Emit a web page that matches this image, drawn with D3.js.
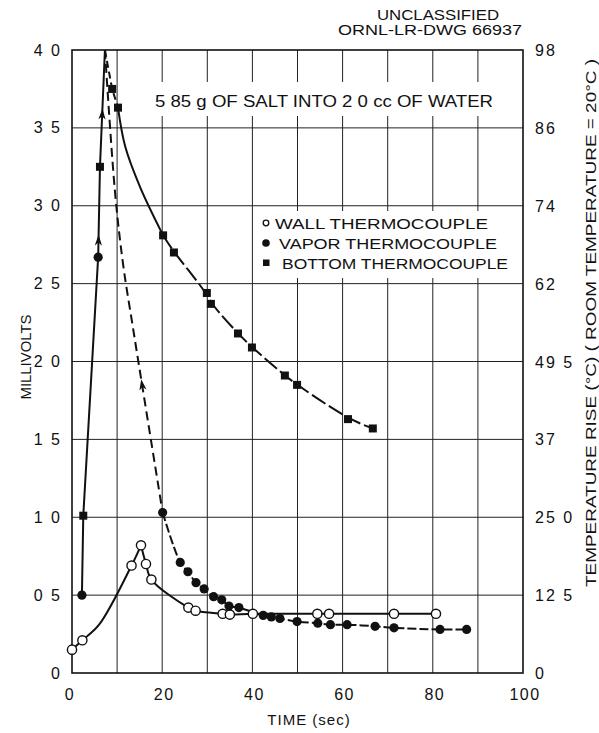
<!DOCTYPE html>
<html><head><meta charset="utf-8">
<script src="https://cdn.jsdelivr.net/npm/d3@7"></script>
<style>body{margin:0;background:#fff}svg{display:block}</style>
</head><body><svg id="c" width="599" height="733"></svg>
<script>
// ---------- data ----------
const xTicks = [0, 20, 40, 60, 80, 100];
const xGrid = [10, 20, 30, 40, 50, 60, 70, 80, 90];
const yTicks = [0, 0.5, 1, 1.5, 2, 2.5, 3, 3.5, 4];
const yTickLabels = ["0", "0 5", "1 0", "1 5", "2 0", "2 5", "3 0", "3 5", "4 0"];
const rightTickLabels = ["0", "12 5", "25 0", "37", "49 5", "62", "74", "86", "98"];

const wallT = [0, 2.3, 13.2, 15.3, 16.4, 17.6, 25.8, 27.4, 33.4, 35.0, 40.1, 54.4, 57.0, 71.4, 80.7];
const wallV = [0.15, 0.21, 0.69, 0.82, 0.70, 0.60, 0.42, 0.40, 0.38, 0.375, 0.38, 0.38, 0.38, 0.38, 0.38];
const wallRiseKnotT = [6.0];
const wallRiseKnotV = [0.31];

const vaporT = [2.2, 5.8, 20.1, 24.0, 25.7, 27.5, 29.3, 31.4, 33.2, 34.8, 37.0, 42.4, 44.2, 46.1, 49.9, 54.5, 57.3, 61.0, 67.2, 71.4, 81.6, 87.5];
const vaporV = [0.50, 2.67, 1.03, 0.71, 0.65, 0.58, 0.54, 0.49, 0.47, 0.43, 0.42, 0.37, 0.36, 0.35, 0.33, 0.32, 0.31, 0.31, 0.30, 0.29, 0.28, 0.28];
const vaporDropT = [9.5, 11.3, 13.5];
const vaporDropV = [3.1, 2.63, 2.22];

const bottomT = [2.5, 6.2, 8.9, 10.2, 20.2, 22.6, 29.9, 30.8, 36.8, 39.9, 47.2, 49.9, 61.2, 66.7];
const bottomV = [1.01, 3.25, 3.75, 3.63, 2.81, 2.70, 2.44, 2.37, 2.18, 2.09, 1.91, 1.85, 1.63, 1.57];
const bottomDropT = [11.8, 15.1];
const bottomDropV = [3.38, 3.12];

const peakT = 7.3, peakV = 4.0;

const legendLabels = ["WALL THERMOCOUPLE", "VAPOR THERMOCOUPLE", "BOTTOM THERMOCOUPLE"];
const titleText = "5 85 g OF SALT INTO 2 0 cc OF WATER";

// ---------- layout ----------
const svg = d3.select("#c");
const FONT = "'Liberation Sans', Arial, sans-serif";
const INK = "#111";
const x = d3.scaleLinear().domain([0, 100]).range([72, 523]);
const y = d3.scaleLinear().domain([0, 4]).range([673, 50]);

const P = (ts, vs) => ts.map((t, i) => [t, vs[i]]);
const wall = P(wallT, wallV), vapor = P(vaporT, vaporV), bottom = P(bottomT, bottomV);
const peak = [peakT, peakV];

// grid
const g = svg.append("g");
g.selectAll("line.vg").data(xGrid).join("line")
  .attr("x1", d => x(d)).attr("x2", d => x(d)).attr("y1", y(4)).attr("y2", y(0))
  .attr("stroke", "#222").attr("stroke-width", 1);
g.selectAll("line.hg").data(yTicks.filter(v => v > 0 && v < 4)).join("line")
  .attr("y1", d => y(d)).attr("y2", d => y(d)).attr("x1", x(0)).attr("x2", x(100))
  .attr("stroke", "#222").attr("stroke-width", 1);

// white boxes behind title and legend
svg.append("rect").attr("x", 150).attr("y", 82).attr("width", 352).attr("height", 34).attr("fill", "#fff");
svg.append("rect").attr("x", x(40) + 1.5).attr("y", 211).attr("width", x(100) - x(40) - 3).attr("height", 67).attr("fill", "#fff");

// frame
svg.append("rect").attr("x", x(0)).attr("y", y(4)).attr("width", x(100) - x(0)).attr("height", y(0) - y(4))
  .attr("fill", "none").attr("stroke", INK).attr("stroke-width", 1.6);

// clip
svg.append("clipPath").attr("id", "clip").append("rect")
  .attr("x", x(0)).attr("y", y(4) - 1).attr("width", x(100) - x(0)).attr("height", y(0) - y(4) + 2);
const lines = svg.append("g").attr("clip-path", "url(#clip)");

const lineLin = d3.line().x(d => x(d[0])).y(d => y(d[1]));
const lineCR = d3.line().x(d => x(d[0])).y(d => y(d[1])).curve(d3.curveCatmullRom.alpha(0.5));
const lineB = d3.line().x(d => x(d[0])).y(d => y(d[1])).curve(d3.curveBasis);

function drawPath(gen, pts, dash) {
  lines.append("path").attr("d", gen(pts)).attr("fill", "none").attr("stroke", INK)
    .attr("stroke-width", 2).attr("stroke-dasharray", dash || null)
    .attr("stroke-linecap", "butt").attr("stroke-linejoin", "round");
}

// rising (shared) path
const rising = [vapor[0], bottom[0], vapor[1], bottom[1], peak];
drawPath(lineLin, rising);

// vapor drop (dashed) from peak to t=20
drawPath(lineCR, [peak, ...P(vaporDropT, vaporDropV), vapor[2]], "9,5");
// vapor tail
drawPath(lineCR, vapor.slice(2), "9,3");

// bottom drop
drawPath(lineLin, [peak, bottom[2], bottom[3]], "7,4");
drawPath(lineCR, [bottom[3], ...P(bottomDropT, bottomDropV), bottom[4]]);
// bottom tail: smooth basis through endpoints
const bTail = bottom.slice(4);
drawPath(lineB, [bTail[0], ...bTail, bTail[bTail.length - 1]], "16,4");

// wall
drawPath(lineCR, [wall[0], wall[1], ...P(wallRiseKnotT, wallRiseKnotV), wall[2], wall[3]]);
drawPath(lineCR, wall.slice(3));

// arrowheads
function arrow(a, b, frac) {
  const x1 = x(a[0]), y1 = y(a[1]), x2 = x(b[0]), y2 = y(b[1]);
  const px = x1 + (x2 - x1) * frac, py = y1 + (y2 - y1) * frac;
  const ang = Math.atan2(y2 - y1, x2 - x1) * 180 / Math.PI;
  svg.append("path").attr("d", "M0,0 L-11,-3.6 L-8,0 L-11,3.6 Z")
    .attr("transform", `translate(${px},${py}) rotate(${ang})`).attr("fill", INK);
}
arrow(vapor[1], bottom[1], 0.25);
arrow(bottom[1], peak, 0.5);
arrow(vapor[2], [vaporDropT[2], vaporDropV[2]], 0.72);

// markers
const mk = svg.append("g");
mk.selectAll("circle.w").data(wall).join("circle")
  .attr("cx", d => x(d[0])).attr("cy", d => y(d[1])).attr("r", 4.6)
  .attr("fill", "#fff").attr("stroke", INK).attr("stroke-width", 1.4);
mk.selectAll("circle.v").data(vapor).join("circle")
  .attr("cx", d => x(d[0])).attr("cy", d => y(d[1])).attr("r", 4.6).attr("fill", INK);
mk.selectAll("rect.b").data(bottom).join("rect")
  .attr("x", d => x(d[0]) - 4).attr("y", d => y(d[1]) - 4).attr("width", 8).attr("height", 8).attr("fill", INK);

// text helpers
function txt(xp, yp, s, opts = {}) {
  const t = svg.append("text").attr("x", xp).attr("y", yp).text(s)
    .attr("font-family", FONT).attr("font-size", opts.size || 15).attr("fill", INK)
    .attr("text-anchor", opts.anchor || "start");
  if (opts.ls) t.attr("letter-spacing", opts.ls);
  if (opts.len) t.attr("textLength", opts.len).attr("lengthAdjust", "spacingAndGlyphs");
  if (opts.rot) t.attr("transform", `rotate(${opts.rot},${xp},${yp})`);
  return t;
}

// left tick labels
yTicks.forEach((v, i) => txt(62, y(v) + 5.5, yTickLabels[i], { size: 16, anchor: "end", ls: 2 }));
// right tick labels
yTicks.forEach((v, i) => txt(535, y(v) + 6, rightTickLabels[i], { size: 16, ls: 2 }));
// bottom tick labels
xTicks.forEach(v => txt(x(v) + (v === 0 ? -2 : 2), 700, String(v), { size: 16, anchor: "middle", ls: 1.5 }));

// axis titles
txt(309, 725, "TIME (sec)", { size: 15, anchor: "middle", ls: 1 });
txt(31, 357, "MILLIVOLTS", { size: 14, anchor: "middle", rot: -90, len: 85 });
txt(596, 323, "TEMPERATURE RISE (°C) ( ROOM TEMPERATURE = 20°C )", { size: 15, anchor: "middle", rot: -90, len: 528 });

// header
txt(377, 20, "UNCLASSIFIED", { size: 14, len: 122 });
txt(338, 35, "ORNL-LR-DWG 66937", { size: 14, len: 184 });

// title inside plot
txt(155, 107, titleText, { size: 16, len: 338 });

// legend
const legY = [229, 249, 269];
const legLen = [213, 218, 226];
const legX = [275, 279, 282];
svg.append("circle").attr("cx", 266).attr("cy", legY[0] - 6).attr("r", 2.8)
  .attr("fill", "#fff").attr("stroke", INK).attr("stroke-width", 1.3);
svg.append("circle").attr("cx", 266).attr("cy", legY[1] - 6).attr("r", 3.8).attr("fill", INK);
svg.append("rect").attr("x", 263).attr("y", legY[2] - 9.5).attr("width", 6.5).attr("height", 6.5).attr("fill", INK);
legendLabels.forEach((s, i) => txt(legX[i], legY[i], s, { size: 15, len: legLen[i] }));
</script>
</body></html>
